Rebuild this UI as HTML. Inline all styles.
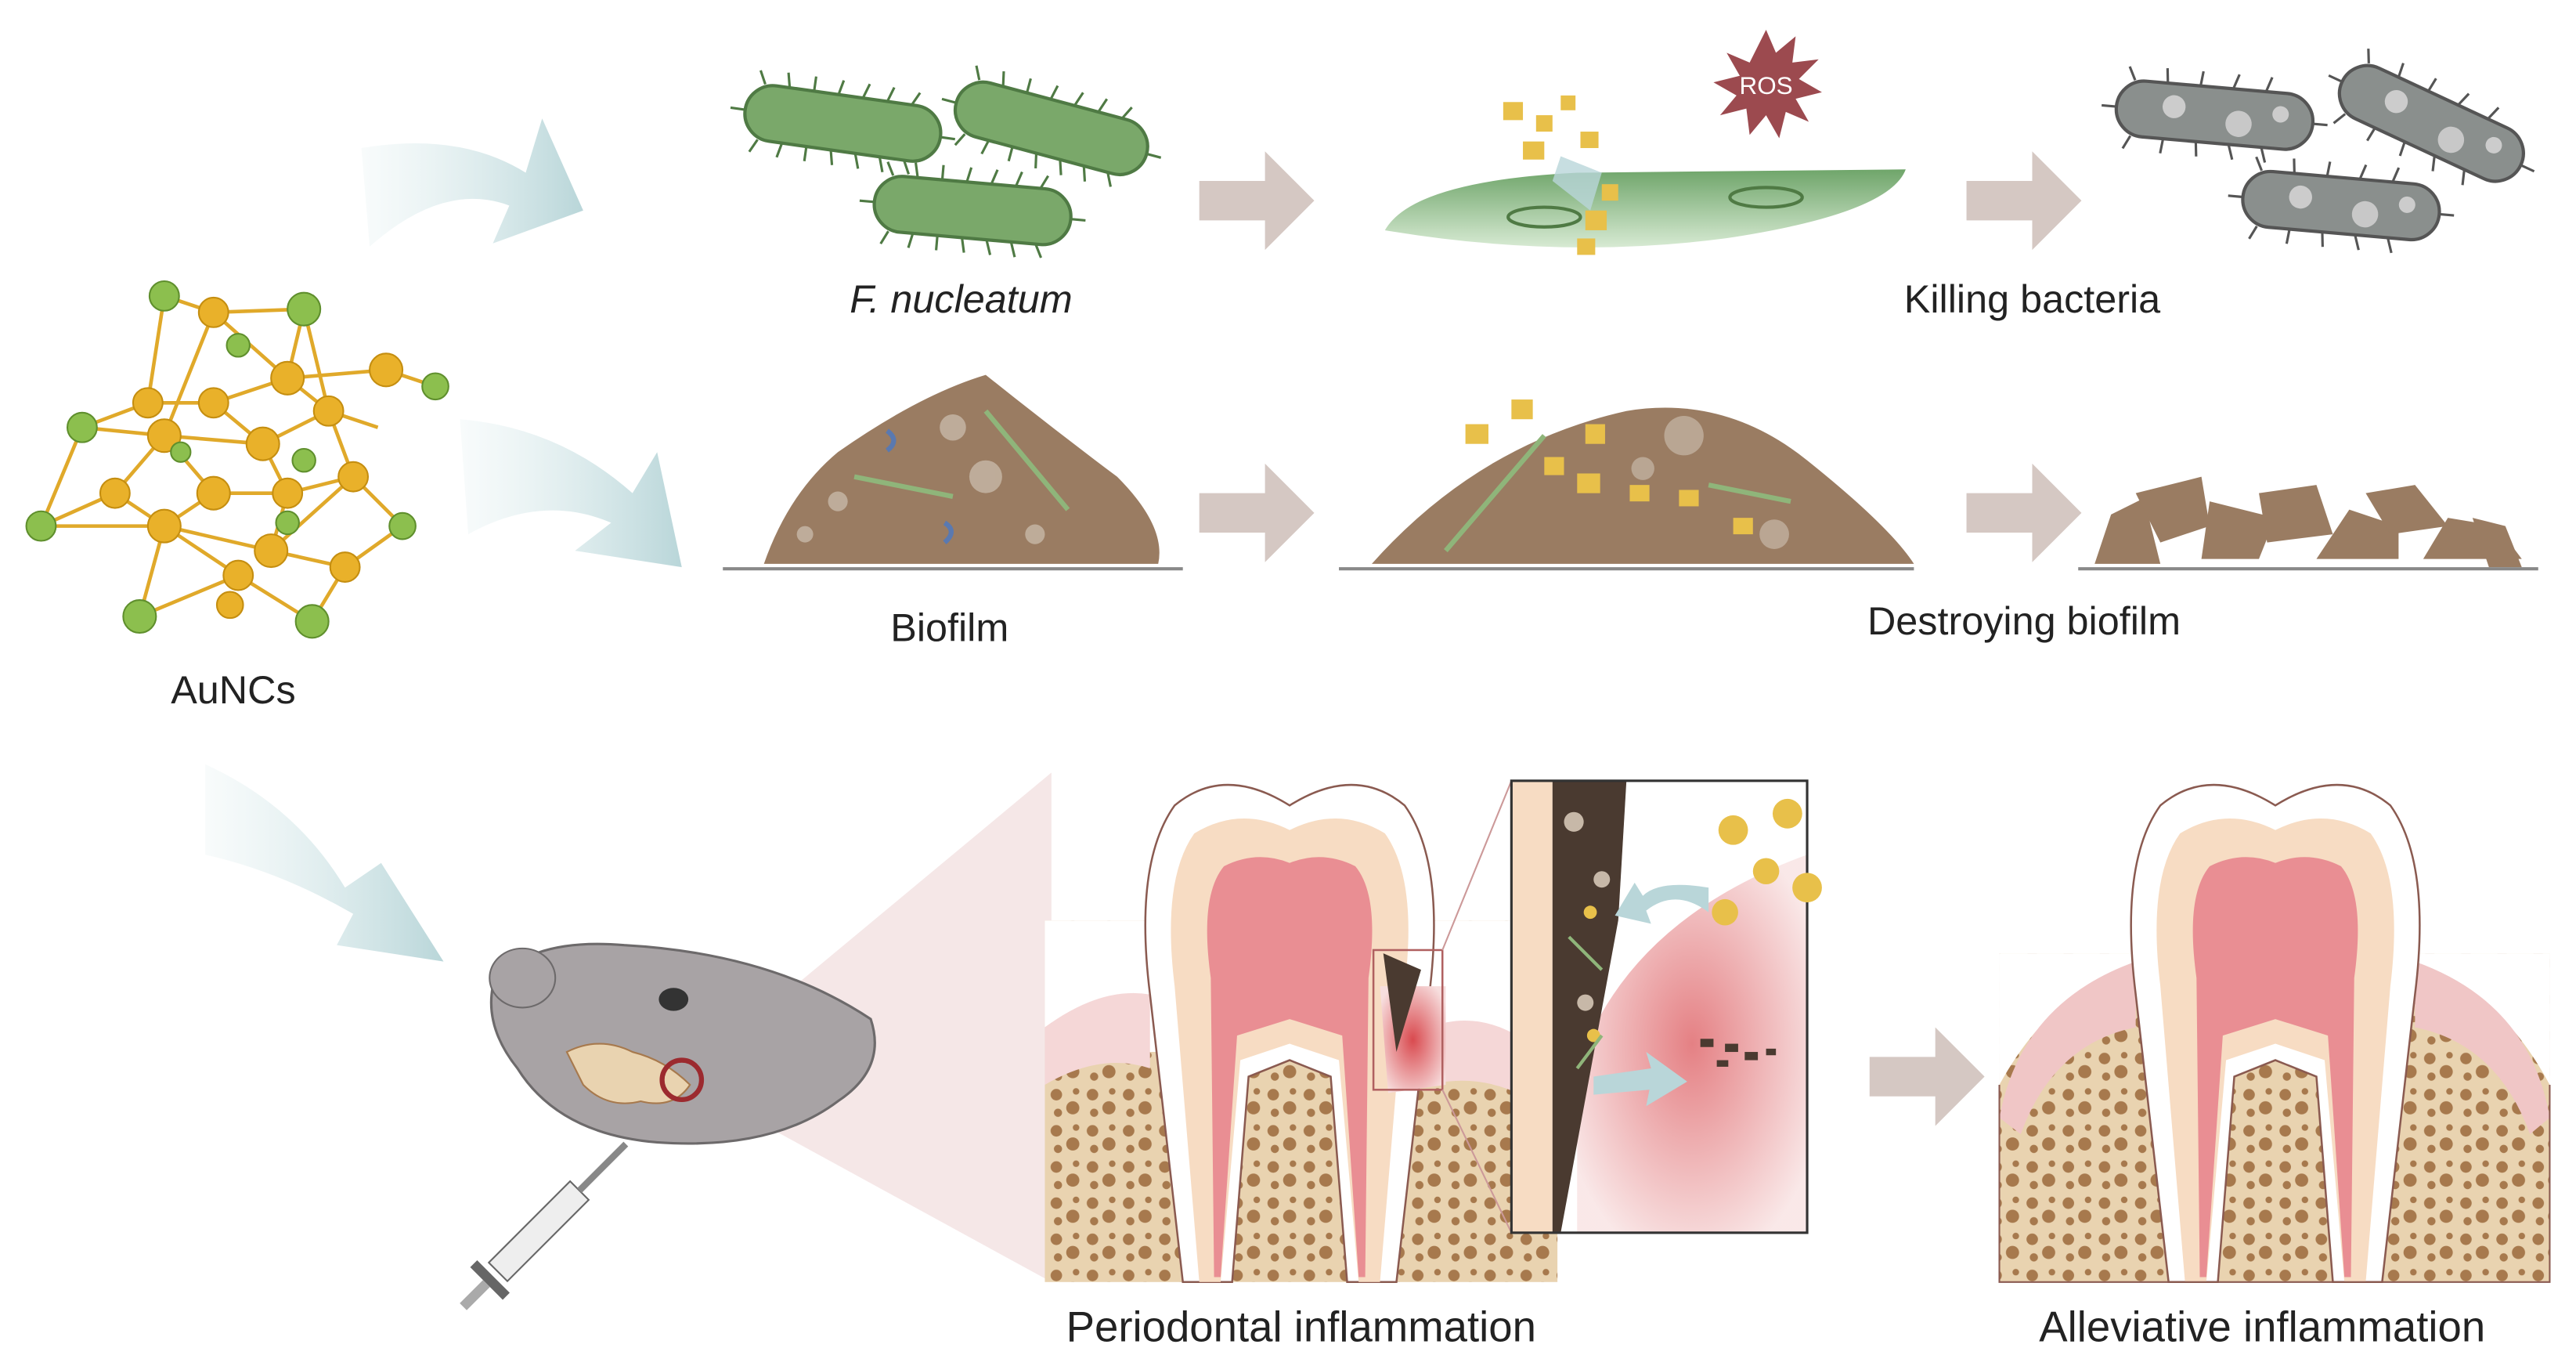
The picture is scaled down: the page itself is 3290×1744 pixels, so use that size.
<!DOCTYPE html>
<html><head><meta charset="utf-8"><style>
html,body{margin:0;padding:0;background:#fff}
svg{display:block}
text{font-family:"Liberation Sans",sans-serif;fill:#222}
</style></head><body>
<svg width="3290" height="1744" viewBox="0 0 1568 831" xmlns="http://www.w3.org/2000/svg">
<defs>
<linearGradient id="ca" x1="0" x2="1"><stop offset="0" stop-color="#dceced" stop-opacity="0.2"/><stop offset="1" stop-color="#b9d6d9"/></linearGradient>
<linearGradient id="gs" x1="0" y1="0" x2="0" y2="1"><stop offset="0" stop-color="#6fa56a"/><stop offset="1" stop-color="#d7ead3"/></linearGradient>
<radialGradient id="gum" cx="0.5" cy="0.5" r="0.6"><stop offset="0" stop-color="#d94a4f"/><stop offset="1" stop-color="#f7dede"/></radialGradient>
<pattern id="bone" width="22" height="22" patternUnits="userSpaceOnUse"><rect width="22" height="22" fill="#e9d3b0"/><circle cx="5" cy="6" r="3.5" fill="#a7794d"/><circle cx="15" cy="14" r="4" fill="#a7794d"/><circle cx="17" cy="4" r="2" fill="#a7794d"/><circle cx="6" cy="17" r="2.5" fill="#a7794d"/></pattern>
<g id="bac"><rect x="-60" y="-17" width="120" height="34" rx="17" fill="#7aa86a" stroke="#4f7a44" stroke-width="2"/><g stroke="#4f7a44" stroke-width="1.5"><path d="M-50 -17l-4 -8M-35 -17l-2 -9M-20 -17l0 -9M-5 -17l2 -9M10 -17l3 -9M25 -17l3 -9M40 -17l4 -8M-50 17l-4 8M-35 17l-2 9M-20 17l0 9M-5 17l2 9M10 17l3 9M25 17l3 9M40 17l4 8M60 0l9 0M-60 0l-9 0"/></g></g>
<g id="bacg"><rect x="-60" y="-17" width="120" height="34" rx="17" fill="#8a8f8d" stroke="#555" stroke-width="2"/><circle cx="-25" cy="-3" r="7" fill="#ccc"/><circle cx="15" cy="4" r="8" fill="#c8c8c8"/><circle cx="40" cy="-4" r="5" fill="#ccc"/><g stroke="#555" stroke-width="1.5"><path d="M-50 -17l-4 -8M-30 -17l-1 -9M-10 -17l1 -9M10 -17l3 -9M30 -17l3 -9M-50 17l-4 8M-30 17l-1 9M-10 17l1 9M10 17l3 9M30 17l3 9M60 0l9 0M-60 0l-9 0"/></g></g>
<path id="garr" d="M0 -12h40v-18l30 30l-30 30v-18h-40z" fill="#d5c8c3"/>
<g id="tooth">
<path d="M-85 60 Q-95 -20 -70 -55 Q-40 -80 0 -55 Q40 -80 70 -55 Q95 -20 85 60 L65 235 L35 235 L25 110 L0 100 L-25 110 L-35 235 L-65 235 Z" fill="#fff" stroke="#8a5a50" stroke-width="1.2"/>
<path d="M-70 55 Q-78 -10 -58 -38 Q-30 -55 0 -40 Q30 -55 58 -38 Q78 -10 70 55 L55 235 L42 235 L30 100 L0 90 L-30 100 L-42 235 L-55 235Z" fill="#f7dcc3"/>
<path d="M-48 50 Q-55 0 -40 -18 Q-20 -28 0 -20 Q20 -28 40 -18 Q55 0 48 50 L46 232 L42 232 L32 85 L0 75 L-32 85 L-42 232 L-46 232Z" fill="#e98e93"/>
</g>
</defs>

<!-- curved arrows -->
<path d="M220 90 Q280 80 320 105 L330 72 L355 128 L300 148 L310 125 Q270 110 225 150 Z" fill="url(#ca)"/>
<path d="M280 255 Q340 260 385 300 L400 275 L415 345 L350 335 L372 318 Q330 300 285 325 Z" fill="url(#ca)"/>
<path d="M125 465 Q180 490 210 540 L232 525 L270 585 L205 575 L215 556 Q170 530 125 520 Z" fill="url(#ca)"/>

<!-- AuNCs -->
<g stroke="#e0a92a" stroke-width="2.2" fill="none">
<path d="M100 180L130 190L185 188L175 230L235 225L265 235M100 180L90 245L50 260L25 320L70 300L100 265L160 270L200 250L230 260M130 190L100 265L130 300L175 300L215 290L245 320L210 345L190 378L145 350L100 320L70 300M175 230L130 245L90 245M130 245L160 270L175 300L165 335L100 320L85 375L145 350M200 250L215 290L165 335L210 345M130 190L175 230L200 250M50 260L100 265M130 300L100 320M25 320L100 320M185 188L200 250"/>
</g>
<g fill="#e9b12a" stroke="#c58e10" stroke-width="1">
<circle cx="130" cy="190" r="9"/><circle cx="175" cy="230" r="10"/><circle cx="235" cy="225" r="10"/><circle cx="90" cy="245" r="9"/><circle cx="130" cy="245" r="9"/><circle cx="160" cy="270" r="10"/><circle cx="200" cy="250" r="9"/><circle cx="100" cy="265" r="10"/><circle cx="130" cy="300" r="10"/><circle cx="175" cy="300" r="9"/><circle cx="215" cy="290" r="9"/><circle cx="70" cy="300" r="9"/><circle cx="100" cy="320" r="10"/><circle cx="165" cy="335" r="10"/><circle cx="210" cy="345" r="9"/><circle cx="145" cy="350" r="9"/><circle cx="140" cy="368" r="8"/>
</g>
<g fill="#8cbf4e" stroke="#5f8f2d" stroke-width="1">
<circle cx="100" cy="180" r="9"/><circle cx="185" cy="188" r="10"/><circle cx="265" cy="235" r="8"/><circle cx="50" cy="260" r="9"/><circle cx="25" cy="320" r="9"/><circle cx="245" cy="320" r="8"/><circle cx="85" cy="375" r="10"/><circle cx="190" cy="378" r="10"/><circle cx="145" cy="210" r="7"/><circle cx="185" cy="280" r="7"/><circle cx="110" cy="275" r="6"/><circle cx="175" cy="318" r="7"/>
</g>
<text x="142" y="428" font-size="24" text-anchor="middle">AuNCs</text>

<!-- top row -->
<use href="#bac" transform="translate(513,75) rotate(8)"/>
<use href="#bac" transform="translate(640,78) rotate(15)"/>
<use href="#bac" transform="translate(592,128) rotate(5)"/>
<text x="585" y="190" font-size="24" text-anchor="middle" font-style="italic">F. nucleatum</text>
<use href="#garr" transform="translate(730,122)"/>
<path d="M843 140 Q860 110 960 105 L1160 103 Q1150 130 1050 145 Q950 158 843 140Z" fill="url(#gs)"/>
<ellipse cx="940" cy="132" rx="22" ry="6" fill="none" stroke="#4f7a44" stroke-width="2"/>
<ellipse cx="1075" cy="120" rx="22" ry="6" fill="none" stroke="#4f7a44" stroke-width="2"/>
<g fill="#e8c04a"><rect x="915" y="62" width="12" height="11"/><rect x="935" y="70" width="10" height="10"/><rect x="950" y="58" width="9" height="9"/><rect x="927" y="86" width="13" height="11"/><rect x="962" y="80" width="11" height="10"/><rect x="965" y="128" width="13" height="12"/><rect x="960" y="145" width="11" height="10"/><rect x="975" y="112" width="10" height="10"/></g>
<path d="M950 95 L975 105 L968 128 L945 110Z" fill="#b9d6d9" opacity="0.8"/>
<path d="M1075 18 l6 14 12 -10 -2 16 16 -2 -12 12 14 8 -16 4 8 14 -14 -6 -4 16 -8 -14 -10 12 -2 -16 -16 4 10 -12 -14 -8 16 -4 -8 -14 14 6z" fill="#9c4a4f"/>
<text x="1075" y="57" font-size="15" text-anchor="middle" style="fill:#fff">ROS</text>
<use href="#garr" transform="translate(1197,122)"/>
<use href="#bacg" transform="translate(1348,70) rotate(5)"/>
<use href="#bacg" transform="translate(1480,75) rotate(25)"/>
<use href="#bacg" transform="translate(1425,125) rotate(5)"/>
<text x="1237" y="190" font-size="24" text-anchor="middle">Killing bacteria</text>

<!-- biofilm row -->
<path d="M465 343 Q480 300 510 275 Q560 240 600 228 Q640 260 680 290 Q710 320 705 343Z" fill="#9a7c62"/>
<line x1="440" y1="346" x2="720" y2="346" stroke="#888" stroke-width="2"/>
<g fill="#c7b8a8" opacity="0.8"><circle cx="580" cy="260" r="8"/><circle cx="600" cy="290" r="10"/><circle cx="510" cy="305" r="6"/><circle cx="630" cy="325" r="6"/><circle cx="490" cy="325" r="5"/></g>
<g stroke-width="3" fill="none"><path d="M540 262 q8 6 0 12" stroke="#5a79b0"/><path d="M575 318 q8 5 0 12" stroke="#5a79b0"/><path d="M520 290 l60 12" stroke="#8fb57a"/><path d="M600 250 l50 60" stroke="#8fb57a"/></g>
<text x="578" y="390" font-size="24" text-anchor="middle">Biofilm</text>
<use href="#garr" transform="translate(730,312)"/>
<path d="M835 343 Q900 270 990 250 Q1050 240 1100 280 Q1150 320 1165 343Z" fill="#9a7c62"/>
<line x1="815" y1="346" x2="1165" y2="346" stroke="#888" stroke-width="2"/>
<g fill="#e8c04a"><rect x="892" y="258" width="14" height="12"/><rect x="920" y="243" width="13" height="12"/><rect x="940" y="278" width="12" height="11"/><rect x="965" y="258" width="12" height="12"/><rect x="960" y="288" width="14" height="12"/><rect x="992" y="295" width="12" height="10"/><rect x="1022" y="298" width="12" height="10"/><rect x="1055" y="315" width="12" height="10"/></g>
<g fill="#c7b8a8" opacity="0.7"><circle cx="1025" cy="265" r="12"/><circle cx="1000" cy="285" r="7"/><circle cx="1080" cy="325" r="9"/></g>
<path d="M880 335 l60 -70 M1040 295 l50 10" stroke="#8fb57a" stroke-width="3"/>
<use href="#garr" transform="translate(1197,312)"/>
<g fill="#9a7c62"><path d="M1275 343 l10 -30 20 -10 10 40z"/><path d="M1300 300 l40 -10 5 30 -30 10z"/><path d="M1340 340 l5 -35 40 10 -10 25z"/><path d="M1375 300 l35 -5 10 30 -40 5z"/><path d="M1410 340 l20 -30 30 10 0 20z"/><path d="M1440 300 l30 -5 20 25 -35 5z"/><path d="M1475 340 l15 -25 30 5 15 20z"/><path d="M1505 315 l20 5 10 25 -20 0z"/></g>
<line x1="1265" y1="346" x2="1545" y2="346" stroke="#888" stroke-width="2"/>
<text x="1232" y="386" font-size="24" text-anchor="middle">Destroying biofilm</text>

<!-- mouse -->
<path d="M415 657 L640 470 L640 780 Z" fill="#f3e1e1" opacity="0.8"/>
<path d="M300 600 Q320 570 380 575 Q470 580 530 620 Q540 650 510 670 Q470 700 400 695 Q340 690 315 650 Q295 625 300 600Z" fill="#a8a3a5" stroke="#6d6a6b" stroke-width="1.5"/>
<ellipse cx="318" cy="595" rx="20" ry="18" fill="#a8a3a5" stroke="#6d6a6b"/>
<ellipse cx="410" cy="608" rx="9" ry="7" fill="#333"/>
<path d="M345 640 q20 -10 40 0 q20 5 35 20 q-10 15 -30 10 q-20 5 -35 -10 z" fill="#e9d3b0" stroke="#a7794d"/>
<circle cx="415" cy="657" r="12" fill="none" stroke="#9c2a2f" stroke-width="3"/>
<g transform="translate(335,742) rotate(-45)"><rect x="-45" y="-8" width="70" height="16" fill="#eee" stroke="#666"/><rect x="25" y="-2" width="40" height="4" fill="#888"/><rect x="-55" y="-14" width="6" height="28" fill="#666"/><rect x="-75" y="-3" width="20" height="6" fill="#aaa"/></g>

<!-- periodontal panel -->
<rect x="636" y="560" width="312" height="220" fill="url(#bone)"/>
<path d="M636 560 L948 560 L948 650 Q900 605 870 640 L700 640 Q670 600 636 625Z" fill="#fff"/>
<path d="M636 625 Q670 600 700 605 L700 650 Q670 640 636 660Z M948 650 Q910 610 870 625 L870 660 Q910 650 948 680Z" fill="#f5d7d7"/>
<use href="#tooth" transform="translate(785,545)"/>
<path d="M840 600 L880 600 L880 660 L845 665Z" fill="url(#gum)"/>
<path d="M842 580 L865 590 L850 640Z" fill="#4a3a30"/>
<rect x="836" y="578" width="42" height="85" fill="none" stroke="#b06060" stroke-width="1.2"/>
<path d="M878 578 L920 475 M878 663 L920 750" stroke="#c99" stroke-width="1"/>
<rect x="920" y="475" width="180" height="275" fill="#fff"/>
<path d="M1100 520 Q990 560 960 650 L960 750 L1100 750Z" fill="url(#gum)" opacity="0.7"/>
<path d="M920 475 H945 L945 750 H920Z" fill="#f7dcc3"/>
<path d="M945 475 L990 475 L985 560 L950 750 L945 750Z" fill="#4a3a30"/>
<g fill="#c7b8a8"><circle cx="958" cy="500" r="6"/><circle cx="975" cy="535" r="5"/><circle cx="965" cy="610" r="5"/></g>
<g fill="#e8c04a"><circle cx="968" cy="555" r="4"/><circle cx="970" cy="630" r="4"/></g>
<path d="M955 570 l20 20 M960 650 l15 -20" stroke="#8fb57a" stroke-width="2"/>
<rect x="920" y="475" width="180" height="275" fill="none" stroke="#333" stroke-width="1.5"/>
<g fill="#e8c04a"><circle cx="1055" cy="505" r="9"/><circle cx="1088" cy="495" r="9"/><circle cx="1075" cy="530" r="8"/><circle cx="1100" cy="540" r="9"/><circle cx="1050" cy="555" r="8"/></g>
<path d="M1040 540 Q1010 535 1000 545 l-5 -8 -12 20 22 5 -3 -8 Q1020 540 1040 555z" fill="#b9d6d9"/>
<path d="M970 655 l35 -5 -3 -10 25 18 -25 15 2 -10 -34 3z" fill="#b9d6d9"/>
<g fill="#4a3a30"><rect x="1035" y="632" width="8" height="5"/><rect x="1050" y="635" width="8" height="5"/><rect x="1062" y="640" width="8" height="5"/><rect x="1045" y="645" width="7" height="4"/><rect x="1075" y="638" width="6" height="4"/></g>
<text x="792" y="816" font-size="26" text-anchor="middle">Periodontal inflammation</text>

<use href="#garr" transform="translate(1138,655)"/>

<!-- healthy -->
<rect x="1217" y="580" width="335" height="200" fill="url(#bone)"/>
<path d="M1217 580 L1552 580 L1552 660 Q1520 600 1470 590 L1300 590 Q1250 600 1217 660Z" fill="#fff"/>
<path d="M1217 680 Q1230 610 1300 585 L1300 625 Q1250 635 1230 690Z M1552 680 Q1540 610 1470 585 L1470 625 Q1520 635 1540 690Z" fill="#f0c6c6"/>
<use href="#tooth" transform="translate(1385,545)"/>
<path d="M1217 660 L1217 780 L1552 780 L1552 660" fill="none" stroke="#8a5a50" stroke-width="1"/>
<text x="1377" y="816" font-size="26" text-anchor="middle">Alleviative inflammation</text>
</svg>
</body></html>
